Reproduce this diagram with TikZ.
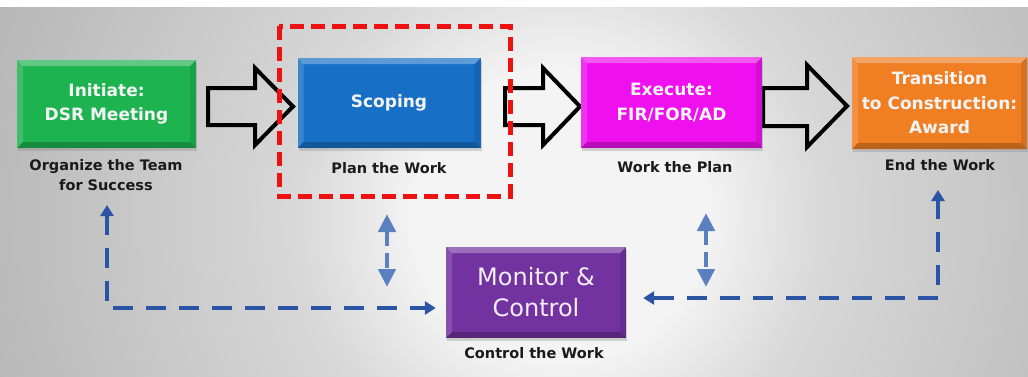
\documentclass[tikz,border=0pt]{standalone}
\usepackage{fontspec}
\setmainfont{DejaVu Sans}
\usetikzlibrary{arrows.meta,shadows,calc}
\definecolor{bgA}{HTML}{F4F4F4}
\definecolor{bgB}{HTML}{D8D8D8}
\definecolor{bgC}{HTML}{A6A6A6}
\definecolor{bgD}{HTML}{9A9A9A}
\definecolor{cgreen}{HTML}{1DB34F}
\definecolor{cblue}{HTML}{1870C6}
\definecolor{cmag}{HTML}{EE10EE}
\definecolor{corange}{HTML}{F07E22}
\definecolor{cpurple}{HTML}{7232A0}
\definecolor{cdash}{HTML}{2C54A4}
\definecolor{cmid}{HTML}{5B80C0}
\definecolor{cred}{HTML}{EE1111}
\definecolor{ctext}{HTML}{F4F4F4}
\definecolor{cmtext}{HTML}{F4EEFA}
\definecolor{clab}{HTML}{1A1A1A}
\pgfdeclareradialshading{bgshade}{\pgfpoint{0bp}{0bp}}{color(0bp)=(bgA); color(6bp)=(bgA); color(11bp)=(bgB); color(32bp)=(bgC); color(38bp)=(bgD); color(50bp)=(bgD)}
\begin{document}
\begin{tikzpicture}[x=1pt,y=-1pt,
  bev/.style={path picture={
    \path (path picture bounding box.north west) coordinate (pNW)
          (path picture bounding box.north east) coordinate (pNE)
          (path picture bounding box.south west) coordinate (pSW)
          (path picture bounding box.south east) coordinate (pSE);
    \fill[white,opacity=.30] (pNW) -- (pNE) -- ([shift={(-6pt,-6pt)}]pNE) -- ([shift={(6pt,-6pt)}]pNW) -- cycle;
    \fill[white,opacity=.15] (pNW) -- ([shift={(6pt,-6pt)}]pNW) -- ([shift={(6pt,6pt)}]pSW) -- (pSW) -- cycle;
    \fill[black,opacity=.22] (pSW) -- ([shift={(6pt,6pt)}]pSW) -- ([shift={(-6pt,6pt)}]pSE) -- (pSE) -- cycle;
    \fill[black,opacity=.10] (pNE) -- ([shift={(-6pt,-6pt)}]pNE) -- ([shift={(-6pt,6pt)}]pSE) -- (pSE) -- cycle;
  }},
  box/.style={draw=none,inner sep=0pt,text=ctext,align=center,
    font=\bfseries\fontsize{17}{24.5}\selectfont,bev,
    drop shadow={opacity=.3,shadow xshift=1pt,shadow yshift=-3pt}},
  lab/.style={text=clab,align=center,inner sep=0pt,
    font=\bfseries\fontsize{14.5}{20}\selectfont},
  blockarr/.style={draw=black,line width=4pt,line join=miter},
  bdash/.style={draw=cdash,line width=4.5pt,dash pattern=on 20pt off 13pt,
    {Triangle[length=11pt,width=13pt]}-{Triangle[length=11pt,width=13pt]}},
  mdash/.style={draw=cmid,line width=4.5pt,dash pattern=on 15pt off 7pt,
    {Triangle[length=18pt,width=17pt]}-{Triangle[length=18pt,width=17pt]}},
  redbox/.style={draw=cred,line width=5pt,dash pattern=on 14pt off 7pt}
]
\useasboundingbox (0,0) rectangle (1028,376);
\fill[white] (0,0) rectangle (1028,376);
\begin{scope}
  \clip (0,7) rectangle (1028,376);
  \shade[shading=bgshade] (560,215) circle[radius=600];
\end{scope}

% block arrows
\draw[blockarr] (208,88) -- (255,88) -- (255,68) -- (293,106.5) -- (255,145) -- (255,125) -- (208,125) -- cycle;
\draw[blockarr] (505,88) -- (543,88) -- (543,68) -- (580,106.5) -- (543,145) -- (543,125) -- (505,125) -- cycle;
\draw[blockarr] (763,88) -- (807,88) -- (807,65) -- (847,106) -- (807,147) -- (807,126) -- (763,126) -- cycle;

% boxes
\node[box,fill=cgreen,minimum width=179pt,minimum height=88pt] (init) at (106.5,104) {Initiate:\\DSR Meeting};
\node[box,fill=cblue,minimum width=183pt,minimum height=90pt] (scop) at (389,103) {Scoping};
\node[box,fill=cmag,minimum width=181pt,minimum height=91pt] (exec) at (671.5,102.5) {Execute:\\FIR/FOR/AD};
\node[box,fill=corange,minimum width=175pt,minimum height=92pt] (trans) at (939.5,103) {Transition\\to Construction:\\Award};
\node[box,fill=cpurple,minimum width=180pt,minimum height=91pt,text=cmtext,
  font=\fontsize{24}{31}\selectfont] (mon) at (536,292.5) {Monitor \&\\Control};

% labels
\node[lab] (lab1) at (106,175) {Organize the Team\\for Success};
\node[lab] (lab2) at (389,168) {Plan the Work};
\node[lab] (lab3) at (675,167) {Work the Plan};
\node[lab] (lab4) at (940,165) {End the Work};
\node[lab] (lab5) at (534,353) {Control the Work};

% red dashed highlight
\draw[redbox] (279,26) rectangle (510,196);

% connectors
\coordinate (L1) at (107,205);
\coordinate (R1) at (938,190);
\draw[bdash] (L1) |- ($(mon.west)+(-10,15.5)$);
\draw[bdash] ($(mon.east)+(17,5.5)$) -| (R1);
\coordinate (m1a) at (387,214);
\coordinate (m1b) at (387,287);
\coordinate (m2a) at (706,213);
\coordinate (m2b) at (706,287);
\draw[mdash] (m1a) -- (m1b);
\draw[mdash] (m2a) -- (m2b);
\end{tikzpicture}
\end{document}
